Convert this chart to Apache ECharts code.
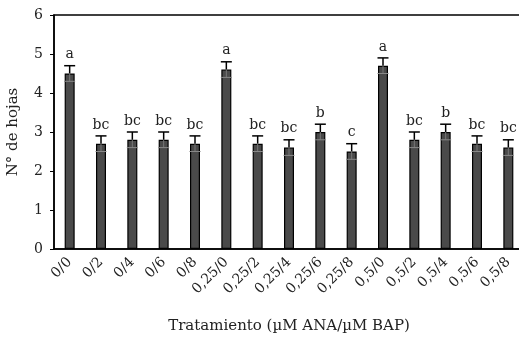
<!DOCTYPE html>
<html>
<head>
<meta charset="utf-8">
<script src="https://cdn.jsdelivr.net/npm/echarts@6/dist/echarts.min.js"></script>
<style>
  html, body { margin: 0; padding: 0; background: #fff; }
  #chart-panel { width: 519px; height: 344px; }
</style>
</head>
<body>
<div id="chart-panel"></div>
<script>
// tratamientos (µM ANA / µM BAP)
var categories = ['0/0', '0/2', '0/4', '0/6', '0/8', '0,25/0', '0,25/2', '0,25/4', '0,25/6', '0,25/8',
    '0,5/0', '0,5/2', '0,5/4', '0,5/6', '0,5/8'];
var hojas = [4.5, 2.7, 2.8, 2.8, 2.7, 4.6, 2.7, 2.6, 3.0, 2.5, 4.7, 2.8, 3.0, 2.7, 2.6];
var errores = [0.2, 0.2, 0.2, 0.2, 0.2, 0.2, 0.2, 0.2, 0.2, 0.2, 0.2, 0.2, 0.2, 0.2, 0.2];
var letras = ['a', 'bc', 'bc', 'bc', 'bc', 'a', 'bc', 'bc', 'b', 'c', 'a', 'bc', 'b', 'bc', 'bc'];
var yTicks = [0, 1, 2, 3, 4, 5, 6];

var serif = 'DejaVu Serif';
var ink = '#222';

var errData = hojas.map(function (v, i) {
    return [i, v, errores[i], letras[i]];
});

var option = {
    animation: false,
    textStyle: { fontFamily: serif },
    grid: {
        left: 54, top: 15, width: 470, bottom: 95,
        outerBoundsMode: 'none',
        show: true, borderColor: '#000', borderWidth: 1.5
    },
    xAxis: {
        type: 'category',
        data: categories,
        axisLine: { lineStyle: { color: '#000', width: 1.5 } },
        axisTick: { show: false },
        axisLabel: { rotate: 45, color: ink, fontSize: 14, fontFamily: serif, margin: 11, interval: 0 },
        name: 'Tratamiento (µM ANA/µM BAP)',
        nameLocation: 'middle',
        nameGap: 70,
        nameTextStyle: { fontSize: 15, color: ink, fontFamily: serif }
    },
    yAxis: {
        type: 'value',
        min: yTicks[0], max: yTicks[yTicks.length - 1], interval: 1,
        axisLine: { show: true, lineStyle: { color: '#000', width: 1.5 } },
        axisTick: { show: true, length: 4, lineStyle: { color: '#000' } },
        splitLine: { show: false },
        axisLabel: { color: ink, fontSize: 14, fontFamily: serif, margin: 11 },
        name: 'N° de hojas',
        nameLocation: 'middle',
        nameGap: 33,
        nameTextStyle: { fontSize: 15, color: ink, fontFamily: serif }
    },
    series: [{
        type: 'bar',
        data: hojas,
        barWidth: 10,
        itemStyle: { color: '#4a4a4a', borderColor: '#000', borderWidth: 1.2 }
    }, {
        type: 'custom',
        data: errData,
        z: 5,
        renderItem: function (params, api) {
            var i = api.value(0), v = api.value(1), e = api.value(2);
            var top = api.coord([i, v + e]);
            var mid = api.coord([i, v]);
            var low = api.coord([i, v - e]);
            var half = 5.5;
            var black = { stroke: '#000', lineWidth: 1.5 };
            return {
                type: 'group',
                children: [
                    { type: 'line', shape: { x1: top[0], y1: top[1], x2: mid[0], y2: mid[1] }, style: black },
                    { type: 'line', shape: { x1: top[0] - half, y1: top[1], x2: top[0] + half, y2: top[1] }, style: black },
                    { type: 'line', shape: { x1: mid[0], y1: mid[1], x2: low[0], y2: low[1] }, style: { stroke: '#777', lineWidth: 1 } },
                    { type: 'line', shape: { x1: low[0] - half, y1: low[1], x2: low[0] + half, y2: low[1] }, style: { stroke: '#888', lineWidth: 1 } },
                    {
                        type: 'text',
                        x: top[0], y: top[1] - 4,
                        style: {
                            text: api.value(3),
                            fontFamily: serif, fontSize: 14, fill: ink,
                            align: 'center', verticalAlign: 'bottom'
                        }
                    }
                ]
            };
        }
    }]
};

var chart = echarts.init(document.getElementById('chart-panel'));
chart.setOption(option);
</script>
</body>
</html>
